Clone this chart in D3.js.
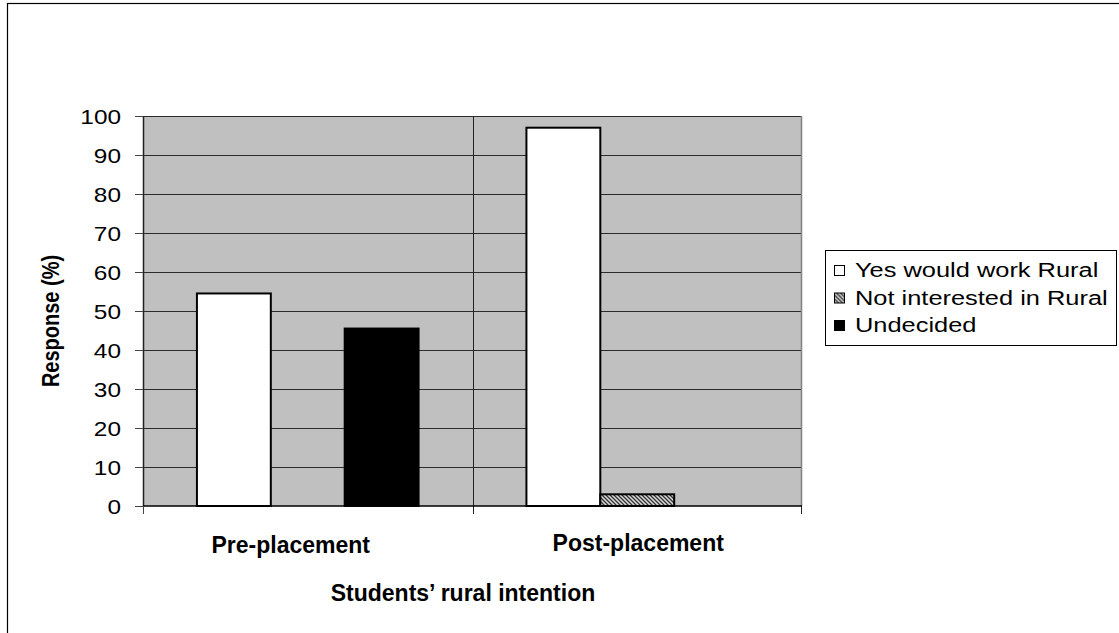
<!DOCTYPE html>
<meta charset="utf-8">
<style>
    body { margin: 0; background: #fff; }
    text { font-family: "Liberation Sans", Arial, sans-serif; fill: #000; }
    .grid line { stroke: #2b2b2b; stroke-width: 1px; shape-rendering: crispEdges; }
    .bar { stroke: #000; stroke-width: 2px; }
</style>
<body>
<svg width="1119" height="633"></svg>
</body>
<script src="https://d3js.org/d3.v7.min.js"></script>
<script>
    var categories = ["Pre-placement", "Post-placement"];
    var seriesNames = ["Yes would work Rural", "Not interested in Rural", "Undecided"];
    var yesRural = [54.5, 97];
    var notInterested = [0, 3];
    var undecided = [45.5, 0];
    var yTicks = [0, 10, 20, 30, 40, 50, 60, 70, 80, 90, 100];

    var seriesValues = [yesRural, notInterested, undecided];
    var fills = ["#fff", "url(#hatch)", "#000"];

    // the source picture has its regular text a little wider than normal
    var stretch = 1.22;
    var legendStretch = 1.27;

    var svg = d3.select("svg"),
        margin = { top: 116, right: 317, bottom: 127, left: 143 },
        width = +svg.attr("width") - margin.left - margin.right,
        height = +svg.attr("height") - margin.top - margin.bottom;

    // hatch pattern for the "not interested" series
    var defs = svg.append("defs");
    var pat = defs.append("pattern")
        .attr("id", "hatch")
        .attr("patternUnits", "userSpaceOnUse")
        .attr("width", 4).attr("height", 4);
    pat.append("rect").attr("width", 4).attr("height", 4).attr("fill", "#d8d8d8");
    pat.append("path").attr("d", "M-1,-1L5,5M-1,3L1,5M3,-1L5,1")
        .attr("stroke", "#333").attr("stroke-width", 1.3);

    // outer chart border
    svg.append("rect")
        .attr("x", 7.5).attr("y", 3.5)
        .attr("width", 1200).attr("height", 700)
        .attr("fill", "none").attr("stroke", "#000").attr("stroke-width", 1.2);

    var x0 = d3.scaleBand().domain(categories).range([0, width]);
    var x1 = d3.scaleBand().domain(seriesNames).range([0, x0.bandwidth()]).paddingOuter(0.73).paddingInner(0);
    var y = d3.scaleLinear().domain([0, 100]).range([height, 0]);

    var g = svg.append("g")
        .attr("transform", "translate(" + margin.left + "," + margin.top + ")");

    g.append("rect")
        .attr("width", width).attr("height", height)
        .attr("fill", "#c0c0c0");

    g.append("g")
        .attr("class", "grid")
        .selectAll("line")
        .data(yTicks.filter(function(d) { return d > 0; }))
        .enter().append("line")
        .attr("x1", 0).attr("x2", width)
        .attr("y1", function(d) { return Math.round(y(d)) + 0.5; })
        .attr("y2", function(d) { return Math.round(y(d)) + 0.5; })
        .attr("stroke", function(d) { return d == 100 ? "#808080" : null; });

    // right border of plot
    g.append("line")
        .attr("x1", width - 0.5).attr("x2", width - 0.5)
        .attr("y1", 0).attr("y2", height)
        .attr("stroke", "#808080").attr("stroke-width", 1.5);

    // category divider lines + ticks
    g.selectAll(".divider")
        .data(categories.slice(1))
        .enter().append("line")
        .attr("x1", function(d) { return Math.round(x0(d)) + 0.5; })
        .attr("x2", function(d) { return Math.round(x0(d)) + 0.5; })
        .attr("y1", 0).attr("y2", height + 8)
        .attr("stroke", "#222").attr("stroke-width", 1);

    g.append("line")
        .attr("x1", width - 0.5).attr("x2", width - 0.5)
        .attr("y1", height).attr("y2", height + 8)
        .attr("stroke", "#222");

    var groups = g.selectAll(".series")
        .data(seriesNames)
        .enter().append("g");

    groups.each(function(name, si) {
        d3.select(this).selectAll("rect")
            .data(categories.map(function(c, ci) { return { c: c, v: seriesValues[si][ci] }; })
                .filter(function(d) { return d.v > 0; }))
            .enter().append("rect")
            .attr("class", "bar")
            .attr("x", function(d) { return x0(d.c) + x1(name); })
            .attr("width", x1.bandwidth())
            .attr("y", function(d) { return y(d.v); })
            .attr("height", function(d) { return height - y(d.v); })
            .attr("fill", fills[si]);
    });

    // y axis
    var yAxis = g.append("g")
        .attr("class", "axis")
        .call(d3.axisLeft(y).tickValues(yTicks).tickSize(8).tickSizeOuter(0).tickPadding(13));
    yAxis.select(".domain").attr("stroke", "#222").attr("stroke-width", 1.5);
    yAxis.selectAll(".tick line").attr("stroke", "#444");
    yAxis.selectAll("text")
        .attr("x", -22 / stretch)
        .attr("dy", "0.36em")
        .attr("transform", "scale(" + stretch + ",1)")
        .style("font-size", "20px")
        .style("font-family", "Liberation Sans, Arial, sans-serif");

    // x axis baseline
    g.append("line")
        .attr("x1", 0).attr("x2", width)
        .attr("y1", height).attr("y2", height)
        .attr("stroke", "#000").attr("stroke-width", 1.5);
    g.append("line")
        .attr("x1", 0.5).attr("x2", 0.5)
        .attr("y1", height).attr("y2", height + 8)
        .attr("stroke", "#444");

    // category labels
    var labelShift = [-17, 1];
    g.selectAll(".cat-label")
        .data(categories)
        .enter().append("text")
        .attr("x", function(d, i) { return x0(d) + x0.bandwidth() / 2 + labelShift[i]; })
        .attr("y", function(d, i) { return height + (i == 0 ? 47 : 45); })
        .attr("text-anchor", "middle")
        .style("font-size", "23px")
        .style("font-weight", "bold")
        .text(function(d) { return d; });

    // axis titles
    svg.append("text")
        .attr("x", 463).attr("y", 601)
        .attr("text-anchor", "middle")
        .style("font-size", "23px")
        .style("font-weight", "bold")
        .text("Students’ rural intention");

    svg.append("text")
        .attr("transform", "translate(59,321) scale(" + stretch + ",1) rotate(-90)")
        .attr("text-anchor", "middle")
        .style("font-size", "20px")
        .style("font-weight", "bold")
        .text("Response (%)");

    // legend
    var legend = svg.append("g").attr("transform", "translate(825,250)");
    legend.append("rect")
        .attr("x", 0.5).attr("y", 0.5)
        .attr("width", 291).attr("height", 95)
        .attr("fill", "#fff").attr("stroke", "#000").attr("stroke-width", 1);

    var items = legend.selectAll(".item")
        .data(seriesNames)
        .enter().append("g")
        .attr("transform", function(d, i) { return "translate(0," + (20 + i * 27.5) + ")"; });
    items.append("rect")
        .attr("x", 9.5).attr("y", -4.5)
        .attr("width", 10).attr("height", 10)
        .attr("fill", function(d, i) { return fills[i]; })
        .attr("stroke", "#000").attr("stroke-width", 1);
    items.append("text")
        .attr("transform", "translate(30,0) scale(" + legendStretch + ",1)")
        .attr("dy", "0.36em")
        .style("font-size", "20px")
        .text(function(d) { return d; });
</script>
